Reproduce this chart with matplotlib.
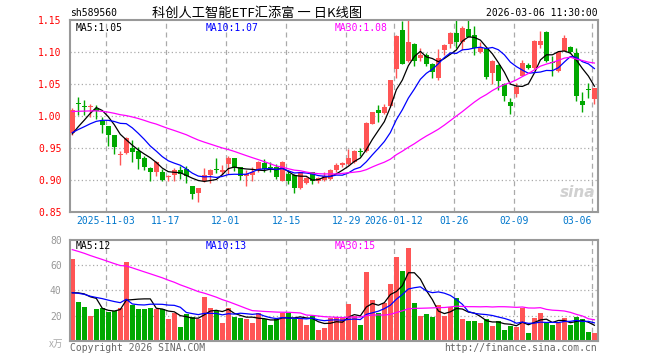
import matplotlib
matplotlib.use("Agg")
import matplotlib.pyplot as plt
import matplotlib.transforms as mtransforms
import numpy as np
import pandas as pd

# daily candles, 2025-10-24 .. 2026-03-06
opens = [0.973, 1.021, 1.016, 1.014, 1.011, 0.992, 0.984, 0.970, 0.939, 0.942,
         0.950, 0.945, 0.934, 0.919, 0.912, 0.912, 0.904, 0.908, 0.916, 0.917,
         0.890, 0.879, 0.898, 0.908, 0.917, 0.913, 0.925, 0.934, 0.920, 0.907,
         0.908, 0.915, 0.926, 0.921, 0.921, 0.899, 0.909, 0.908, 0.887, 0.895,
         0.912, 0.898, 0.900, 0.902, 0.915, 0.923, 0.925, 0.928, 0.945, 0.945,
         0.988, 1.010, 1.004, 1.015, 1.074, 1.134, 1.086, 1.113, 1.090, 1.095,
         1.082, 1.060, 1.103, 1.112, 1.129, 1.116, 1.136, 1.127, 1.100, 1.106,
         1.067, 1.080, 1.050, 1.022, 1.035, 1.063, 1.080, 1.075, 1.111, 1.132,
         1.084, 1.070, 1.102, 1.108, 1.099, 1.024, 1.042, 1.027]
highs = [1.012, 1.029, 1.025, 1.018, 1.017, 0.999, 0.985, 0.971, 0.945, 0.967,
         0.962, 0.952, 0.938, 0.920, 0.930, 0.917, 0.908, 0.919, 0.922, 0.922,
         0.891, 0.888, 0.918, 0.917, 0.934, 0.923, 0.938, 0.935, 0.921, 0.915,
         0.920, 0.929, 0.933, 0.928, 0.925, 0.929, 0.916, 0.909, 0.913, 0.904,
         0.912, 0.904, 0.912, 0.917, 0.926, 0.928, 0.949, 0.947, 0.950, 0.990,
         1.007, 1.017, 1.018, 1.057, 1.126, 1.149, 1.150, 1.114, 1.107, 1.099,
         1.083, 1.104, 1.112, 1.131, 1.150, 1.141, 1.150, 1.141, 1.115, 1.107,
         1.087, 1.081, 1.051, 1.028, 1.052, 1.088, 1.083, 1.118, 1.133, 1.133,
         1.094, 1.101, 1.127, 1.109, 1.107, 1.038, 1.051, 1.043]
lows = [0.970, 1.002, 1.002, 0.999, 0.996, 0.973, 0.953, 0.941, 0.924, 0.940,
        0.928, 0.917, 0.915, 0.898, 0.906, 0.898, 0.899, 0.899, 0.902, 0.896,
        0.871, 0.865, 0.897, 0.896, 0.911, 0.908, 0.910, 0.914, 0.900, 0.891,
        0.898, 0.913, 0.912, 0.912, 0.902, 0.898, 0.894, 0.879, 0.886, 0.893,
        0.893, 0.896, 0.899, 0.900, 0.913, 0.920, 0.924, 0.927, 0.937, 0.944,
        0.987, 0.991, 1.003, 1.014, 1.060, 1.081, 1.085, 1.078, 1.086, 1.078,
        1.060, 1.057, 1.096, 1.107, 1.107, 1.103, 1.123, 1.096, 1.099, 1.058,
        1.050, 1.041, 1.024, 1.003, 1.029, 1.062, 1.073, 1.074, 1.107, 1.084,
        1.062, 1.069, 1.101, 1.099, 1.024, 1.006, 1.028, 1.018]
closes = [1.009, 1.019, 1.014, 1.016, 1.008, 0.986, 0.970, 0.952, 0.941, 0.965,
          0.944, 0.933, 0.920, 0.912, 0.928, 0.900, 0.905, 0.915, 0.909, 0.907,
          0.878, 0.887, 0.908, 0.916, 0.915, 0.916, 0.934, 0.920, 0.907, 0.909,
          0.913, 0.928, 0.917, 0.918, 0.904, 0.928, 0.899, 0.887, 0.912, 0.903,
          0.898, 0.903, 0.907, 0.916, 0.924, 0.926, 0.934, 0.945, 0.943, 0.989,
          1.006, 1.004, 1.014, 1.056, 1.125, 1.082, 1.116, 1.086, 1.096, 1.082,
          1.069, 1.091, 1.111, 1.129, 1.116, 1.138, 1.124, 1.107, 1.108, 1.061,
          1.086, 1.055, 1.032, 1.015, 1.046, 1.083, 1.075, 1.117, 1.117, 1.086,
          1.083, 1.100, 1.122, 1.100, 1.032, 1.017, 1.041, 1.043]
# volume in 万手
volumes = [65, 31, 27, 20, 25, 26, 23, 24, 26, 62,
           28, 25, 25, 26, 25, 25, 17, 22, 11, 21,
           19, 17, 35, 26, 24, 14, 26, 19, 18, 17,
           14, 22, 17, 13, 17, 22, 22, 17, 17, 13,
           20, 9, 10, 18, 19, 18, 29, 20, 13, 54,
           32, 22, 30, 45, 66, 55, 73, 30, 20, 21,
           19, 28, 20, 27, 34, 17, 16, 16, 14, 17,
           12, 16, 9, 12, 11, 26, 6, 18, 22, 14,
           13, 14, 18, 13, 19, 17, 7, 6]

# moving average values at the first candle (history before the window)
price_ma_start = {5: 0.972, 10: 0.974, 30: 1.007}
vol_ma_start = {5: 38, 10: 38, 30: 72}

tick_index = [6, 16, 26, 36, 46, 54, 64, 74, 87]
tick_labels = ["2025-11-03", "11-17", "12-01", "12-15", "12-29",
               "2026-01-12", "01-26", "02-09", "03-06"]
price_ticks = [1.15, 1.10, 1.05, 1.00, 0.95, 0.90, 0.85]
vol_ticks = [80, 60, 40, 20]

RED = "#ff5555"
GREEN = "#00a800"
GRID = "#aaaaaa"
MA_COLORS = {5: "black", 10: "#0000ff", 30: "#ff00ff"}
MONO = "DejaVu Sans Mono"


def moving_average(values, n, start):
    pad_value = (start * n - values[0]) / (n - 1)
    padded = [pad_value] * (n - 1) + list(values)
    s = pd.Series(padded).rolling(n).mean()
    return s.iloc[n - 1:].to_numpy()


def style_axes(ax):
    for spine in ax.spines.values():
        spine.set_color("#999999")
        spine.set_linewidth(1.5)
    ax.set_xticks([])
    ax.tick_params(axis="y", length=0, pad=6, labelsize=7)
    for label in ax.get_yticklabels():
        label.set_fontfamily(MONO)
    for k in tick_index:
        ax.axvline(k - 0.38, color=GRID, lw=0.9, ls=(0, (4, 3)), zorder=0)


x = np.arange(len(closes))
o = np.array(opens)
c = np.array(closes)
up = c >= o
colors = [RED if u else GREEN for u in up]

fig = plt.figure(figsize=(6.6, 3.6), dpi=100)
ax = fig.add_axes([70 / 660, 148 / 360, 528 / 660, 192 / 360])
axv = fig.add_axes([70 / 660, 19 / 360, 528 / 660, 101.5 / 360])

# price panel
ax.set_xlim(-0.38, 87.6)
ax.set_ylim(0.85, 1.15)
ax.set_yticks(price_ticks)
ax.set_yticklabels(["%.2f" % t for t in price_ticks], color="red")
style_axes(ax)
for t in price_ticks[1:-1]:
    ax.axhline(t, color=GRID, lw=0.9, ls=(0, (1, 2)), zorder=0)

body_bottom = np.minimum(o, c)
body_height = np.maximum(np.abs(c - o), 0.0017)
ax.vlines(x, lows, highs, colors=colors, lw=1, zorder=2)
ax.bar(x, body_height, bottom=body_bottom, width=0.8, color=colors,
       linewidth=0, zorder=3)

for n in (5, 10, 30):
    ma = moving_average(closes, n, price_ma_start[n])
    ax.plot(x, ma, color=MA_COLORS[n], lw=0.9, zorder=4)

ax.text(0.01, 0.985, "MA5:1.05", transform=ax.transAxes, ha="left", va="top",
        fontsize=7, family=MONO, color="black")
ax.text(0.256, 0.985, "MA10:1.07", transform=ax.transAxes, ha="left", va="top",
        fontsize=7, family=MONO, color="#0000ff")
ax.text(0.502, 0.985, "MA30:1.08", transform=ax.transAxes, ha="left", va="top",
        fontsize=7, family=MONO, color="#ff00ff")
ax.text(0.995, 0.06, "sina", transform=ax.transAxes, ha="right", va="bottom",
        fontsize=11, fontweight="bold", style="italic", color="#d0d0d0",
        zorder=1)

trans = mtransforms.blended_transform_factory(ax.transData, ax.transAxes)
for k, lab in zip(tick_index, tick_labels):
    ha = "right" if k == tick_index[-1] else "center"
    ax.text(k - 0.38, -0.045, lab, transform=trans, ha=ha, va="center",
            fontsize=7, family=MONO, color="#0077cc")

# volume panel
axv.set_xlim(-0.38, 87.6)
axv.set_ylim(0, 80)
axv.set_yticks(vol_ticks)
axv.set_yticklabels([str(t) for t in vol_ticks], color="#999999")
style_axes(axv)
for t in vol_ticks[1:]:
    axv.axhline(t, color=GRID, lw=0.9, ls=(0, (1, 2)), zorder=0)
axv.bar(x, volumes, width=0.8, color=colors, linewidth=0, zorder=2)
for n in (5, 10, 30):
    ma = moving_average(volumes, n, vol_ma_start[n])
    axv.plot(x, ma, color=MA_COLORS[n], lw=0.9, zorder=4)

axv.text(0.01, 0.985, "MA5:12", transform=axv.transAxes, ha="left", va="top",
         fontsize=7, family=MONO, color="black")
axv.text(0.256, 0.985, "MA10:13", transform=axv.transAxes, ha="left", va="top",
         fontsize=7, family=MONO, color="#0000ff")
axv.text(0.502, 0.985, "MA30:15", transform=axv.transAxes, ha="left", va="top",
         fontsize=7, family=MONO, color="#ff00ff")

# header and footer
fig.text(70 / 660, 1 - 13 / 360, "sh589560", ha="left", va="center",
         fontsize=7, family=MONO, color="black")
fig.text(257 / 660, 1 - 13 / 360, "科创人工智能ETF汇添富 一 日K线图",
         ha="center", va="center", fontsize=9.5,
         family=["Noto Sans CJK SC", "DejaVu Sans"], color="black")
fig.text(598 / 660, 1 - 13 / 360, "2026-03-06 11:30:00", ha="right",
         va="center", fontsize=7, family=MONO, color="black")
fig.text(63 / 660, 1 - 344 / 360, "x万", ha="right", va="center",
         fontsize=7, family=["Noto Sans CJK SC", "DejaVu Sans"], color="#aaaaaa")
fig.text(70 / 660, 1 - 348 / 360, "Copyright 2026 SINA.COM", ha="left",
         va="center", fontsize=7, family=MONO, color="#666666")
fig.text(597 / 660, 1 - 348 / 360, "http://finance.sina.com.cn", ha="right",
         va="center", fontsize=7, family=MONO, color="#666666")

fig.savefig("out.png", dpi=100, facecolor="white")
